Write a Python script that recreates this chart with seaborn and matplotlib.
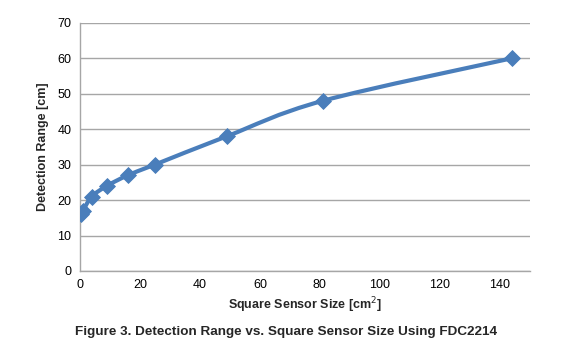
import numpy as np
import pandas as pd
import matplotlib
matplotlib.use("Agg")
import matplotlib.pyplot as plt
from matplotlib.path import Path
from matplotlib.patches import PathPatch
import seaborn as sns

# dati
sensor_size = [0.25, 1, 4, 9, 16, 25, 49, 81, 144]
detection_range = [16, 17, 21, 24, 27, 30, 38, 48, 60]
x_ticks = [0, 20, 40, 60, 80, 100, 120, 140]
y_ticks = [0, 10, 20, 30, 40, 50, 60, 70]

df = pd.DataFrame({"size": sensor_size, "range": detection_range})

blue = "#4A7EBB"
sns.set_theme(style="white")
plt.rcParams["font.family"] = ["Liberation Sans", "DejaVu Sans"]

fig = plt.figure(figsize=(5.83, 3.51), dpi=100)
ax = fig.add_axes([0.137, 0.228, 0.772, 0.707])

# linea smussata stile Excel (bezier catmull-rom sui punti)
pts = df[["size", "range"]].to_numpy(dtype=float)
verts = [pts[0]]
codes = [Path.MOVETO]
for i in range(len(pts) - 1):
    p0 = pts[i - 1] if i > 0 else pts[i]
    p1, p2 = pts[i], pts[i + 1]
    p3 = pts[i + 2] if i + 2 < len(pts) else pts[i + 1]
    verts += [p1 + (p2 - p0) / 6, p2 - (p3 - p1) / 6, p2]
    codes += [Path.CURVE4] * 3
ax.add_patch(PathPatch(Path(verts, codes), facecolor="none", edgecolor=blue,
                       lw=3, capstyle="round", joinstyle="round", zorder=3))

sns.scatterplot(data=df, x="size", y="range", marker="D", s=65, color=blue,
                edgecolor=blue, ax=ax, zorder=4)

ax.set_xlim(0, 150)
ax.set_ylim(0, 70)
ax.set_xticks(x_ticks)
ax.set_yticks(y_ticks)
ax.tick_params(axis="both", labelsize=9, length=0, pad=6, colors="black")
ax.yaxis.grid(True, color="#A6A6A6", lw=1)
ax.xaxis.grid(False)
for s in ["top", "right"]:
    ax.spines[s].set_visible(False)
for s in ["left", "bottom"]:
    ax.spines[s].set_color("#A6A6A6")
    ax.spines[s].set_linewidth(1)

ax.set_xlabel("Square Sensor Size [cm$^2$]", fontsize=9, fontweight="bold", labelpad=3)
ax.set_ylabel("Detection Range [cm]", fontsize=9, fontweight="bold", labelpad=6)

fig.text(0.49, 0.053, "Figure 3. Detection Range vs. Square Sensor Size Using FDC2214",
         ha="center", va="center", fontsize=9.7, fontweight="bold")

fig.savefig("out.png", dpi=100)
